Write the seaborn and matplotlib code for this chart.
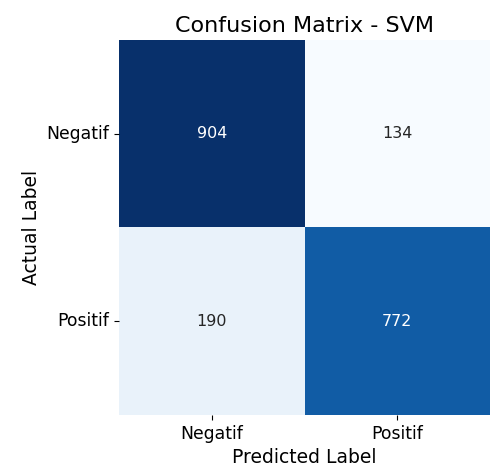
import matplotlib
matplotlib.use("Agg")
import matplotlib.pyplot as plt
import seaborn as sns
import numpy as np

# confusion matrix values
labels = ["Negatif", "Positif"]
row_negatif = [904, 134]
row_positif = [190, 772]


def main():
    cm = np.array([row_negatif, row_positif])

    fig = plt.figure(figsize=(4.92, 4.69), dpi=100)
    ax = fig.add_axes([0.242, 0.115, 0.754, 0.800])
    sns.heatmap(cm, annot=True, fmt="d", cmap="Blues", cbar=False,
                xticklabels=labels, yticklabels=labels, ax=ax,
                annot_kws={"fontsize": 11.5})
    ax.set_title("Confusion Matrix - SVM", fontsize=16)
    ax.set_xlabel("Predicted Label", fontsize=13.5)
    ax.set_ylabel("Actual Label", fontsize=13.5)
    ax.tick_params(labelsize=12.4)
    plt.setp(ax.get_yticklabels(), rotation=0)

    fig.savefig("out.png", dpi=100)


if __name__ == "__main__":
    main()
